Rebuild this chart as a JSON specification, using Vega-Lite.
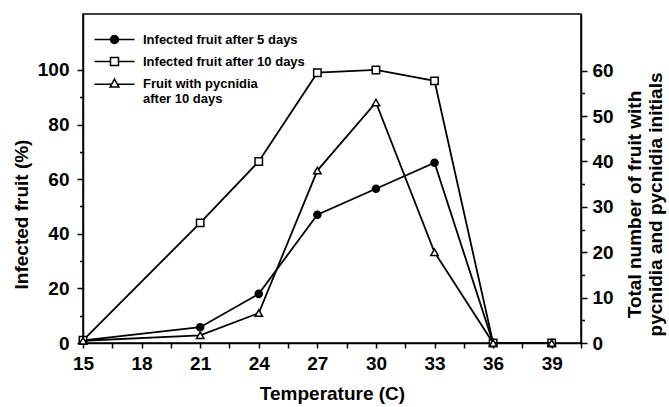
{
  "$schema": "https://vega.github.io/schema/vega-lite/v6.json",
  "width": 498,
  "height": 329,
  "autosize": {"type": "none"},
  "padding": {"left": 83, "top": 14, "right": 88, "bottom": 64},
  "background": "white",
  "config": {
    "view": {"stroke": "black", "strokeWidth": 1.5},
    "legend": {
      "title": null,
      "symbolSize": 64,
      "symbolStrokeColor": "black",
      "symbolStrokeWidth": 1.5,
      "symbolOpacity": 1,
      "labelFont": "Liberation Sans",
      "labelFontWeight": "bold",
      "labelFontSize": 13,
      "labelColor": "black",
      "labelLimit": 400,
      "labelOffset": 22,
      "labelBaseline": "middle",
      "rowPadding": 7
    },
    "axis": {
      "grid": false,
      "labelFlush": false,
      "domainColor": "black",
      "domainWidth": 1.5,
      "tickColor": "black",
      "tickWidth": 1.5,
      "labelFont": "Liberation Sans",
      "labelFontWeight": "bold",
      "labelFontSize": 19,
      "labelColor": "black",
      "titleFont": "Liberation Sans",
      "titleFontWeight": "bold",
      "titleFontSize": 19,
      "titleColor": "black"
    }
  },
  "data": {
    "values": [
      {"temp": 15, "series": "Infected fruit after 5 days", "value": 1},
      {"temp": 21, "series": "Infected fruit after 5 days", "value": 5.8},
      {"temp": 24, "series": "Infected fruit after 5 days", "value": 18},
      {"temp": 27, "series": "Infected fruit after 5 days", "value": 47},
      {"temp": 30, "series": "Infected fruit after 5 days", "value": 56.5},
      {"temp": 33, "series": "Infected fruit after 5 days", "value": 66},
      {"temp": 36, "series": "Infected fruit after 5 days", "value": 0},
      {"temp": 39, "series": "Infected fruit after 5 days", "value": 0},
      {"temp": 15, "series": "Infected fruit after 10 days", "value": 1},
      {"temp": 21, "series": "Infected fruit after 10 days", "value": 44},
      {"temp": 24, "series": "Infected fruit after 10 days", "value": 66.5},
      {"temp": 27, "series": "Infected fruit after 10 days", "value": 99},
      {"temp": 30, "series": "Infected fruit after 10 days", "value": 100},
      {"temp": 33, "series": "Infected fruit after 10 days", "value": 96},
      {"temp": 36, "series": "Infected fruit after 10 days", "value": 0},
      {"temp": 39, "series": "Infected fruit after 10 days", "value": 0},
      {"temp": 15, "series": "Fruit with pycnidia after 10 days", "value": 0.5},
      {"temp": 21, "series": "Fruit with pycnidia after 10 days", "value": 1.7},
      {"temp": 24, "series": "Fruit with pycnidia after 10 days", "value": 6.6},
      {"temp": 27, "series": "Fruit with pycnidia after 10 days", "value": 38},
      {"temp": 30, "series": "Fruit with pycnidia after 10 days", "value": 53},
      {"temp": 33, "series": "Fruit with pycnidia after 10 days", "value": 20},
      {"temp": 36, "series": "Fruit with pycnidia after 10 days", "value": 0},
      {"temp": 39, "series": "Fruit with pycnidia after 10 days", "value": 0}
    ]
  },
  "encoding": {
    "x": {
      "field": "temp",
      "type": "quantitative",
      "scale": {"domain": [15, 40.5], "nice": false, "zero": false},
      "axis": {
        "title": "Temperature (C)",
        "values": [15, 16.5, 18, 19.5, 21, 22.5, 24, 25.5, 27, 28.5, 30, 31.5, 33, 34.5, 36, 37.5, 39, 40.5],
        "labelExpr": "datum.value % 3 === 0 ? datum.label : ''",
        "tickSize": 5,
        "labelPadding": 6,
        "titlePadding": 11
      }
    }
  },
  "layer": [
    {
      "encoding": {
        "y": {
          "field": "value",
          "type": "quantitative",
          "scale": {"domain": [0, 120.5], "nice": false},
          "axis": {
            "title": "Infected fruit (%)",
            "titleY": 200,
            "titleAlign": "center",
            "values": [0, 10, 20, 30, 40, 50, 60, 70, 80, 90, 100],
            "labelExpr": "datum.value % 20 === 0 ? datum.label : ''",
            "tickSize": {"condition": {"test": "datum.value % 20 === 0", "value": 6}, "value": 3.5},
            "labelPadding": 8,
            "titlePadding": 6
          }
        }
      },
      "layer": [
        {
          "transform": [{"filter": "datum.series !== 'Fruit with pycnidia after 10 days'"}],
          "mark": {"type": "line", "stroke": "black", "strokeWidth": 1.8},
          "encoding": {"detail": {"field": "series"}}
        },
        {
          "transform": [{"filter": "datum.series === 'Infected fruit after 5 days'"}],
          "mark": {"type": "point", "shape": "circle", "filled": true, "fill": "black", "opacity": 1, "stroke": "black", "strokeWidth": 1.5, "size": 50}
        },
        {
          "transform": [{"filter": "datum.series === 'Infected fruit after 10 days'"}],
          "mark": {"type": "point", "shape": "square", "filled": true, "fill": "white", "opacity": 1, "stroke": "black", "strokeWidth": 1.5, "size": 55}
        },
        {
          "mark": {"type": "point", "filled": true, "opacity": 0, "strokeWidth": 1.5, "size": 64},
          "encoding": {
            "shape": {
              "field": "series",
              "type": "nominal",
              "scale": {
                "domain": ["Infected fruit after 5 days", "Infected fruit after 10 days", "Fruit with pycnidia after 10 days"],
                "range": [
                  "M-5,0H-1M1,0H5M-1,0A1,1,0,1,1,1,0A1,1,0,1,1,-1,0Z",
                  "M-5,0H-1M1,0H5M-1,-1H1V1H-1Z",
                  "M-5,0.2H-0.6M0.6,0.2H5M0,-1.1L1.1,0.9H-1.1Z"
                ]
              },
              "legend": {
                "orient": "none",
                "legendX": 25,
                "legendY": 19,
                "labelExpr": "datum.label === 'Fruit with pycnidia after 10 days' ? ['Fruit with pycnidia', 'after 10 days'] : datum.label"
              }
            },
            "fill": {
              "field": "series",
              "type": "nominal",
              "scale": {
                "domain": ["Infected fruit after 5 days", "Infected fruit after 10 days", "Fruit with pycnidia after 10 days"],
                "range": ["black", "white", "white"]
              },
              "legend": {
                "orient": "none",
                "legendX": 25,
                "legendY": 19,
                "labelExpr": "datum.label === 'Fruit with pycnidia after 10 days' ? ['Fruit with pycnidia', 'after 10 days'] : datum.label"
              }
            },
            "stroke": {
              "field": "series",
              "type": "nominal",
              "scale": {
                "domain": ["Infected fruit after 5 days", "Infected fruit after 10 days", "Fruit with pycnidia after 10 days"],
                "range": ["black", "black", "black"]
              },
              "legend": {
                "orient": "none",
                "legendX": 25,
                "legendY": 19,
                "labelExpr": "datum.label === 'Fruit with pycnidia after 10 days' ? ['Fruit with pycnidia', 'after 10 days'] : datum.label"
              }
            }
          }
        }
      ]
    },
    {
      "transform": [{"filter": "datum.series === 'Fruit with pycnidia after 10 days'"}],
      "encoding": {
        "y": {
          "field": "value",
          "type": "quantitative",
          "scale": {"domain": [0, 72.5], "nice": false},
          "axis": {
            "orient": "right",
            "title": ["Total number of fruit with", "pycnidia and pycnidia initials"],
            "titleAngle": 270,
            "titleY": 190,
            "titleLineHeight": 21,
            "values": [0, 5, 10, 15, 20, 25, 30, 35, 40, 45, 50, 55, 60],
            "labelExpr": "datum.value % 10 === 0 ? datum.label : ''",
            "tickSize": {"condition": {"test": "datum.value % 10 === 0", "value": 6}, "value": 3.5},
            "labelPadding": 5,
            "titlePadding": 10
          }
        }
      },
      "layer": [
        {
          "mark": {"type": "line", "stroke": "black", "strokeWidth": 1.8},
          "encoding": {"detail": {"field": "series"}}
        },
        {
          "mark": {"type": "point", "shape": "triangle-up", "filled": true, "fill": "white", "opacity": 1, "stroke": "black", "strokeWidth": 1.5, "size": 55}
        }
      ]
    }
  ],
  "resolve": {"scale": {"y": "independent"}}
}
